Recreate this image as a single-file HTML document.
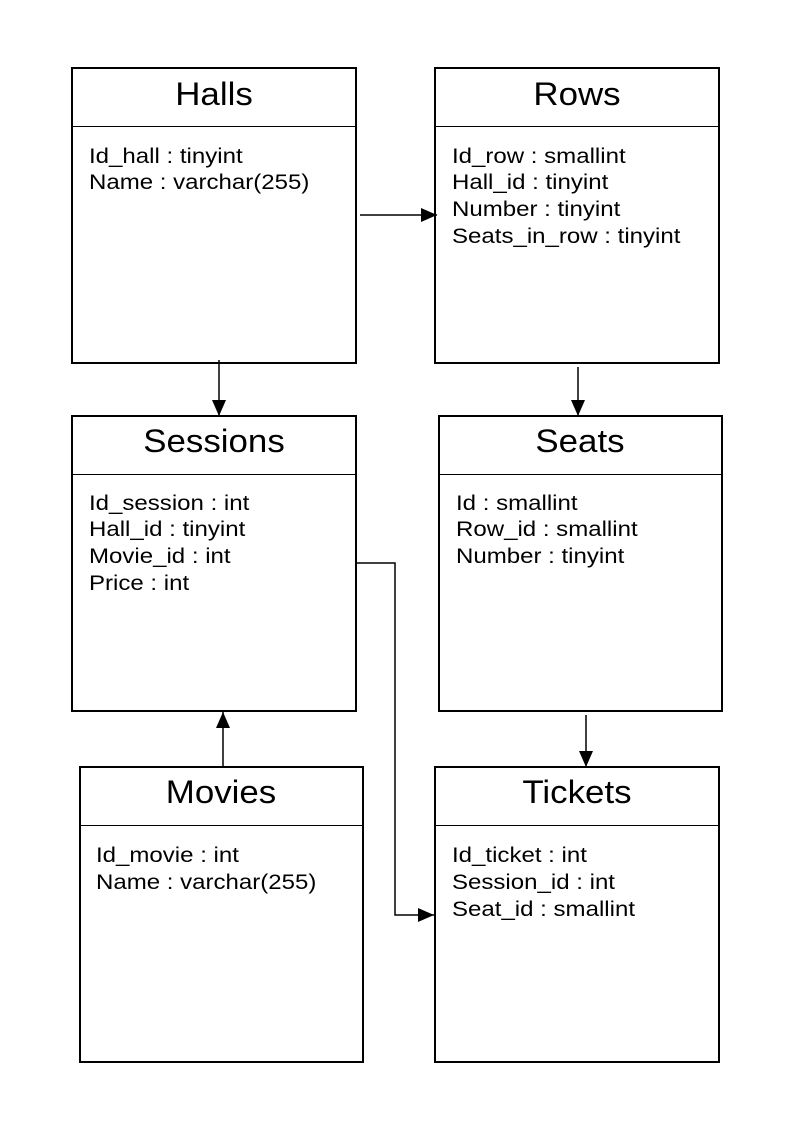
<!DOCTYPE html>
<html><head><meta charset="utf-8"><style>
html,body{margin:0;padding:0;background:#fff;}
svg{display:block;}
text{font-family:"Liberation Sans",Arial,sans-serif;fill:#000;}
.t{font-size:32px;text-anchor:middle;}
.a{font-size:21px;}
</style></head><body>
<svg width="794" height="1123" viewBox="0 0 794 1123" xmlns="http://www.w3.org/2000/svg">
<defs><marker id="ar" markerWidth="16" markerHeight="14" refX="16" refY="7" orient="auto" markerUnits="userSpaceOnUse"><path d="M0,0 L16,7 L0,14 z" fill="#000"/></marker></defs>
<g fill="none" stroke="#000" stroke-width="2">
<rect x="72" y="68" width="284" height="295"/>
<rect x="435" y="68" width="284" height="295"/>
<rect x="72" y="416" width="284" height="295"/>
<rect x="439" y="416" width="283" height="295"/>
<rect x="80" y="767" width="283" height="295"/>
<rect x="435" y="767" width="284" height="295"/>
</g>
<g stroke="#000" stroke-width="1">
<line x1="72" y1="126.5" x2="356" y2="126.5"/>
<line x1="435" y1="126.5" x2="719" y2="126.5"/>
<line x1="72" y1="474.5" x2="356" y2="474.5"/>
<line x1="439" y1="474.5" x2="722" y2="474.5"/>
<line x1="80" y1="825.5" x2="363" y2="825.5"/>
<line x1="435" y1="825.5" x2="719" y2="825.5"/>
</g>
<g stroke="#000" stroke-width="1.5" fill="none" marker-end="url(#ar)">
<line x1="360" y1="215" x2="437" y2="215"/>
<line x1="219" y1="360" x2="219" y2="416"/>
<line x1="578" y1="367" x2="578" y2="416"/>
<line x1="223" y1="767" x2="223" y2="712"/>
<line x1="586" y1="715" x2="586" y2="767"/>
<polyline points="357,563 395,563 395,915 434,915"/>
</g>
<g transform="translate(214,105) scale(1.09,1)"><text class="t" x="0" y="0">Halls</text></g>
<g transform="translate(577,105) scale(1.09,1)"><text class="t" x="0" y="0">Rows</text></g>
<g transform="translate(214,452) scale(1.09,1)"><text class="t" x="0" y="0">Sessions</text></g>
<g transform="translate(580,452) scale(1.09,1)"><text class="t" x="0" y="0">Seats</text></g>
<g transform="translate(221,803) scale(1.09,1)"><text class="t" x="0" y="0">Movies</text></g>
<g transform="translate(577,803) scale(1.09,1)"><text class="t" x="0" y="0">Tickets</text></g>
<g transform="translate(89,0) scale(1.145,1)">
<text class="a" x="0" y="163">Id_hall : tinyint</text>
<text class="a" x="0" y="189">Name : varchar(255)</text>
<text class="a" x="0" y="510">Id_session : int</text>
<text class="a" x="0" y="536">Hall_id : tinyint</text>
<text class="a" x="0" y="563">Movie_id : int</text>
<text class="a" x="0" y="590">Price : int</text>
</g>
<g transform="translate(452,0) scale(1.145,1)">
<text class="a" x="0" y="163">Id_row : smallint</text>
<text class="a" x="0" y="189">Hall_id : tinyint</text>
<text class="a" x="0" y="216">Number : tinyint</text>
<text class="a" x="0" y="243">Seats_in_row : tinyint</text>
<text class="a" x="0" y="862">Id_ticket : int</text>
<text class="a" x="0" y="889">Session_id : int</text>
<text class="a" x="0" y="916">Seat_id : smallint</text>
</g>
<g transform="translate(456,0) scale(1.145,1)">
<text class="a" x="0" y="510">Id : smallint</text>
<text class="a" x="0" y="536">Row_id : smallint</text>
<text class="a" x="0" y="563">Number : tinyint</text>
</g>
<g transform="translate(96,0) scale(1.145,1)">
<text class="a" x="0" y="862">Id_movie : int</text>
<text class="a" x="0" y="889">Name : varchar(255)</text>
</g>
</svg>
</body></html>
